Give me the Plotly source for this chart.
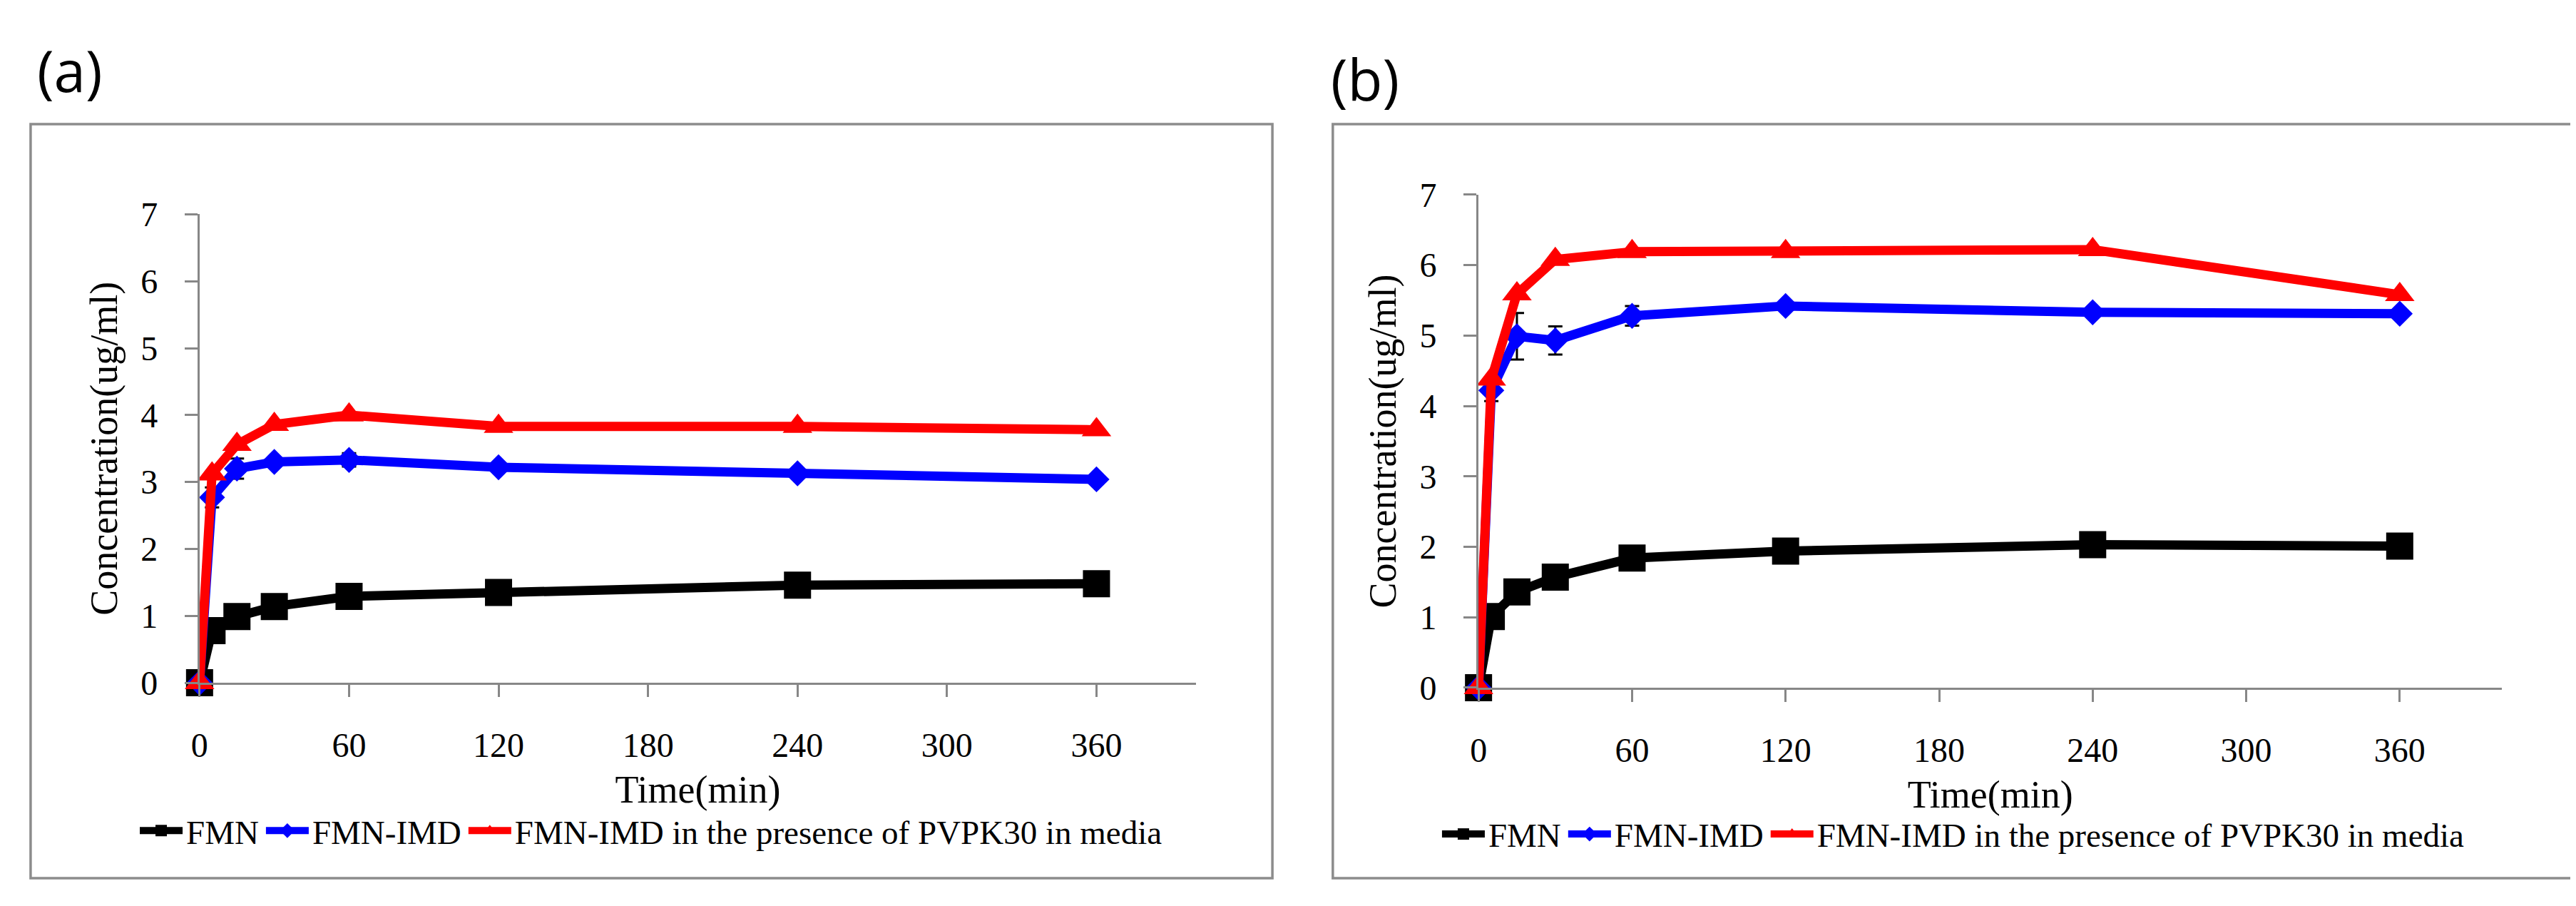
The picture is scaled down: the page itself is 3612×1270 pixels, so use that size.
import plotly.graph_objects as go

# ---------------- data ----------------
times = [0, 5, 15, 30, 60, 120, 240, 360]
x_ticks = [0, 60, 120, 180, 240, 300, 360]
y_ticks = [0, 1, 2, 3, 4, 5, 6, 7]
series_names = ["FMN", "FMN-IMD", "FMN-IMD in the presence of PVPK30 in media"]
panel_labels = ["(a)", "(b)"]

a_fmn = [0, 0.78, 0.99, 1.14, 1.29, 1.35, 1.46, 1.48]
a_imd = [0, 2.77, 3.20, 3.30, 3.33, 3.22, 3.13, 3.04]
a_pvp = [0, 3.12, 3.56, 3.86, 4.00, 3.83, 3.83, 3.78]
a_imd_err = [0, 0.15, 0.15, 0.05, 0.10, 0.03, 0.03, 0.03]

b_fmn = [0, 1.01, 1.36, 1.57, 1.84, 1.94, 2.03, 2.01]
b_imd = [0, 4.22, 4.99, 4.93, 5.28, 5.42, 5.33, 5.31]
b_pvp = [0, 4.38, 5.59, 6.08, 6.19, 6.19, 6.22, 5.58]
b_imd_err = [0, 0.15, 0.33, 0.20, 0.14, 0.04, 0.03, 0.03]

# ---------------- styling ----------------
W, H = 3612, 1270
SERIF = "Liberation Serif, Times New Roman, serif"
AXIS_GREY = "#878787"
colors = ["#000000", "#0000FF", "#FF0000"]
symbols = ["square", "diamond", "triangle-up"]
msizes = [38, 28, 36]

fig = go.Figure()

panels = [
    dict(xa="x", ya="y", leg="legend", data=[a_fmn, a_imd, a_pvp], err=a_imd_err),
    dict(xa="x2", ya="y2", leg="legend2", data=[b_fmn, b_imd, b_pvp], err=b_imd_err),
]

for p in panels:
    for i, (name, vals) in enumerate(zip(series_names, p["data"])):
        tr = dict(
            x=times, y=vals, name=name, mode="lines+markers",
            line=dict(color=colors[i], width=13),
            marker=dict(symbol=symbols[i], size=msizes[i], color=colors[i], line=dict(width=0)),
            xaxis=p["xa"], yaxis=p["ya"], legend=p["leg"], cliponaxis=False,
        )
        if i == 1:
            tr["error_y"] = dict(type="data", array=p["err"], visible=True,
                                 color="#000000", thickness=3, width=10)
        fig.add_trace(go.Scatter(**tr))

def xaxis(domain, anchor):
    return dict(domain=domain, anchor=anchor, range=[0, 400], tickmode="array", tickvals=x_ticks,
                showline=True, linecolor=AXIS_GREY, linewidth=3, ticks="outside", ticklen=17,
                tickwidth=3, tickcolor=AXIS_GREY, showgrid=False, zeroline=False,
                tickfont=dict(family=SERIF, size=48, color="#000"), ticklabelstandoff=26,
                title=dict(text="Time(min)", font=dict(family=SERIF, size=54, color="#000"), standoff=18))

def yaxis(domain, anchor):
    return dict(domain=domain, anchor=anchor, range=[0, 7], tickmode="array", tickvals=y_ticks,
                showline=True, linecolor=AXIS_GREY, linewidth=3, ticks="outside", ticklen=18,
                tickwidth=3, tickcolor=AXIS_GREY, showgrid=False, zeroline=False,
                tickfont=dict(family=SERIF, size=48, color="#000"), ticklabelstandoff=28,
                title=dict(text="Concentration(ug/ml)", font=dict(family=SERIF, size=54, color="#000"),
                           standoff=16))

def legend(xc, yc):
    return dict(orientation="h", x=xc, y=yc, xanchor="center", yanchor="middle",
                font=dict(family=SERIF, size=47, color="#000"), bgcolor="rgba(0,0,0,0)",
                itemwidth=60, tracegroupgap=0)

fig.update_layout(
    width=W, height=H, margin=dict(l=0, r=0, t=0, b=0),
    paper_bgcolor="white", plot_bgcolor="white", showlegend=True,
    xaxis=xaxis([260.7 / W, 1662.7 / W], "y"),
    yaxis=yaxis([1 - 963.3 / H, 1 - 278.0 / H], "x"),
    xaxis2=xaxis([2060 / W, 3500 / W], "y2"),
    yaxis2=yaxis([1 - 970.5 / H, 1 - 249.3 / H], "x2"),
    legend=legend(896 / W, 1 - 1180 / H),
    legend2=legend(2728 / W, 1 - 1185 / H),
    annotations=[
        dict(text=panel_labels[0], xref="paper", yref="paper", x=30 / W, y=1 - 66 / H,
             xanchor="left", yanchor="middle", showarrow=False,
             font=dict(family="Open Sans", size=80, color="#000")),
        dict(text=panel_labels[1], xref="paper", yref="paper", x=1850 / W, y=1 - 79 / H,
             xanchor="left", yanchor="middle", showarrow=False,
             font=dict(family="Open Sans", size=80, color="#000")),
    ],
    shapes=[
        dict(type="rect", xref="paper", yref="paper", x0=23 / W, x1=1770 / W,
             y0=1 - 1249 / H, y1=1 - 146 / H, line=dict(color="#8c8c8c", width=3.5)),
        dict(type="rect", xref="paper", yref="paper", x0=1855 / W, x1=3600 / W,
             y0=1 - 1249 / H, y1=1 - 146 / H, line=dict(color="#8c8c8c", width=3.5)),
    ],
)

fig.write_html("out.html")
